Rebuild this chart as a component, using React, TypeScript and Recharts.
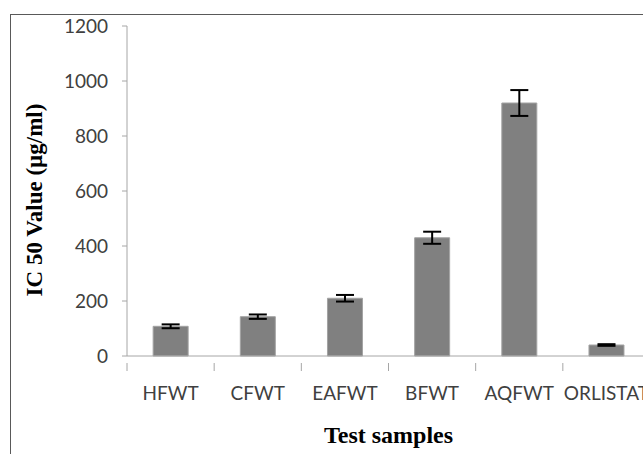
import React from 'react';
import { BarChart, Bar, XAxis, YAxis, ErrorBar } from 'recharts';

const categories = ['HFWT', 'CFWT', 'EAFWT', 'BFWT', 'AQFWT', 'ORLISTAT'];
const ic50Values = [108, 143, 210, 430, 920, 40];
const ic50Errors = [7, 8, 12, 22, 47, 3];
const yTicks = [0, 200, 400, 600, 800, 1000, 1200];

const data = categories.map((name, i) => ({ name, value: ic50Values[i], err: ic50Errors[i] }));

const CHART_W = 680;
const CHART_H = 454;
const Y_AXIS_W = 127;
const MARGIN = { top: 26, right: 30, bottom: 0, left: 0 };
const PLOT_W = CHART_W - MARGIN.left - MARGIN.right - Y_AXIS_W;
const HALF_BAND = PLOT_W / categories.length / 2;

const tickFont = 'Lato, "Open Sans", sans-serif';
const titleFont = '"Liberation Serif", "Times New Roman", serif';

const XTick = (props: any) => {
  const { x, y, payload } = props;
  const off = payload && typeof payload.offset === 'number' && payload.offset > 0 ? payload.offset : HALF_BAND;
  return (
    <g>
      <line x1={x - off} x2={x - off} y1={y - 1} y2={y + 7} stroke="#a6a6a6" strokeWidth={1} />
      <text x={x} y={y + 36} textAnchor="middle" fontFamily={tickFont} fontSize={19} fill="#404040">
        {payload.value}
      </text>
    </g>
  );
};

export default function App() {
  return (
    <div style={{ position: 'fixed', left: 0, top: 0, width: 643, height: 454, overflow: 'hidden', background: '#fff' }}>
      <div style={{ position: 'absolute', left: 10, top: 14, width: 800, height: 600, border: '1px solid #595959', boxSizing: 'border-box' }} />
      <div style={{ position: 'absolute', left: 0, top: 0 }}>
        <BarChart width={CHART_W} height={CHART_H} data={data} margin={MARGIN} barCategoryGap="30%">
          <XAxis
            dataKey="name"
            height={98}
            axisLine={{ stroke: '#a6a6a6' }}
            tickLine={false}
            tick={<XTick />}
            interval={0}
            label={{
              content: (p: any) => {
                const vb = p.viewBox || { x: Y_AXIS_W, width: PLOT_W };
                return (
                  <text x={vb.x + vb.width / 2} y={443} textAnchor="middle" fontFamily={titleFont} fontWeight="bold" fontSize={24} fill="#000">
                    Test samples
                  </text>
                );
              },
            }}
          />
          <YAxis
            width={Y_AXIS_W}
            domain={[0, 1200]}
            ticks={yTicks}
            interval={0}
            axisLine={{ stroke: '#a6a6a6' }}
            tickLine={{ stroke: '#a6a6a6' }}
            tickSize={5}
            tickMargin={14}
            tick={{ fontFamily: tickFont, fontSize: 19, fill: '#404040' }}
            label={{
              content: () => (
                <text x={42} y={200} transform="rotate(-90 42 200)" textAnchor="middle" fontFamily={titleFont} fontWeight="bold" fontSize={23} fill="#000">
                  IC 50 Value (µg/ml)
                </text>
              ),
            }}
          />
          <Bar dataKey="value" fill="#808080" stroke="#a3a3a3" strokeWidth={1} isAnimationActive={false}>
            <ErrorBar dataKey="err" width={9} stroke="#000" strokeWidth={2} direction="y" />
          </Bar>
        </BarChart>
      </div>
    </div>
  );
}
